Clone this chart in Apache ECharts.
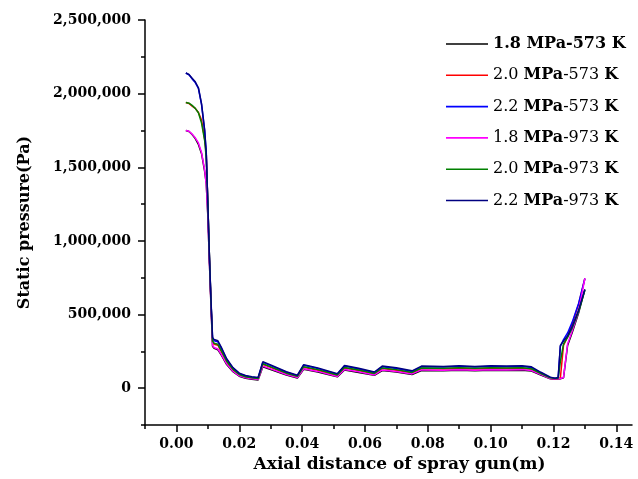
<!DOCTYPE html>
<html><head><meta charset="utf-8">
<script src="https://cdn.jsdelivr.net/npm/echarts@6/dist/echarts.min.js"></script>
<style>html,body{margin:0;padding:0;background:#fff}#c{width:638px;height:479px}</style>
</head><body><div id="c"></div>
<script>
// Axial distance (m)
const axialX = [0.003,0.004,0.005,0.006,0.007,0.008,0.009,0.0095,0.010,0.0105,0.011,0.0115,0.012,0.0125,0.0132,0.0143,0.016,0.018,0.020,0.022,0.024,0.026,0.0266,0.0275,0.030,0.035,0.0385,0.0405,0.045,0.0512,0.0535,0.058,0.063,0.0655,0.070,0.075,0.078,0.085,0.090,0.095,0.100,0.105,0.110,0.113,0.116,0.119,0.1205,0.1215,0.1222,0.1232,0.1245,0.126,0.128,0.130];
// Static pressure (Pa)
const p18_573 = [1750000,1743000,1722000,1695000,1655000,1592000,1470000,1390000,1170000,850000,560000,285000,270000,270000,260000,224000,160000,112000,81000,67000,61000,56000,53000,146000,127000,90000,69000,128000,110000,77000,123000,107000,87000,120000,110000,93000,120000,118000,121000,118000,121000,120000,122000,116000,89000,64000,60000,62000,64000,70000,290000,380000,510000,670000];
const p20_573 = [1940000,1933000,1915000,1900000,1872000,1820000,1690000,1590000,1250000,890000,580000,315000,298000,300000,292000,248000,179000,125000,91000,76000,69000,64000,60000,162000,141000,99000,78000,142000,122000,86000,137000,120000,97000,133000,122000,104000,133000,131000,134000,131000,134000,133000,135000,128000,97000,68000,63000,66000,70000,290000,350000,440000,570000,745000];
const p22_573 = [2140000,2128000,2100000,2075000,2035000,1925000,1745000,1590000,1240000,890000,590000,340000,322000,325000,315000,270000,195000,136000,99000,83000,75000,69000,65000,175000,153000,108000,85000,155000,133000,94000,150000,130000,106000,145000,133000,113000,145000,143000,147000,143000,147000,145000,148000,140000,104000,72000,66000,70000,285000,330000,375000,450000,575000,745000];
const p18_973 = [1750000,1745000,1725000,1700000,1665000,1600000,1480000,1380000,1180000,860000,570000,290000,276000,276000,266000,230000,165000,115000,84000,70000,64000,59000,56000,150000,131000,93000,72000,132000,114000,80000,127000,111000,90000,124000,114000,97000,124000,122000,125000,122000,125000,124000,126000,120000,92000,66000,62000,64000,66000,72000,300000,390000,520000,745000];
const p20_973 = [1940000,1935000,1920000,1900000,1870000,1800000,1680000,1560000,1260000,900000,590000,320000,305000,306000,298000,254000,183000,128000,93000,78000,71000,66000,62000,166000,145000,102000,80000,146000,126000,89000,141000,123000,100000,137000,126000,107000,137000,135000,138000,135000,138000,137000,139000,132000,100000,70000,65000,68000,180000,300000,345000,410000,520000,665000];
const p22_973 = [2140000,2130000,2105000,2080000,2040000,1930000,1750000,1600000,1250000,900000,600000,345000,330000,332000,322000,278000,200000,140000,102000,86000,78000,72000,68000,180000,158000,112000,88000,160000,138000,98000,154000,135000,110000,150000,138000,118000,150000,148000,152000,148000,152000,150000,153000,145000,108000,75000,68000,72000,290000,320000,355000,420000,530000,670000];

const seriesNames = ['1.8 MPa-573 K','2.0 MPa-573 K','2.2 MPa-573 K','1.8 MPa-973 K','2.0 MPa-973 K','2.2 MPa-973 K'];
const seriesValues = [p18_573,p20_573,p22_573,p18_973,p20_973,p22_973];
const seriesColors = ['#000000','#ff0000','#0000ff','#ff00ff','#008000','#000080'];
const xLabelValues = [0,0.02,0.04,0.06,0.08,0.10,0.12,0.14];
const xMinorValues = [-0.01,0.01,0.03,0.05,0.07,0.09,0.11,0.13];
const yLabelValues = [0,500000,1000000,1500000,2000000,2500000];
const yMinorValues = [-250000,250000,750000,1250000,1750000,2250000];

const FONT = 'DejaVu Serif';
const fmtThousands = v => String(Math.round(v)).replace(/\B(?=(\d{3})+(?!\d))/g, ',');

const chart = echarts.init(document.getElementById('c'), null, {renderer:'canvas'});
chart.setOption({
  animation:false,
  backgroundColor:'#fff',
  grid:{left:145,right:6,top:20,bottom:54,containLabel:false},
  legend:{
    show:true, orient:'vertical', left:441, top:30, itemWidth:42, itemHeight:1.6, itemGap:13.3,
    icon:'rect',
    data:seriesNames.map((n,i)=>({name:n, icon:'rect', itemStyle:{color:seriesColors[i]}})),
    formatter:function(name){
      const i = seriesNames.indexOf(name);
      const parts = name.match(/^([\d.]+) MPa(-\d+) K$/);
      if (i===0) return '{b|'+name+'}';
      return '{n|'+parts[1]+' }{b|MPa}{n|'+parts[2]+' }{b|K}';
    },
    textStyle:{fontFamily:FONT,fontSize:16,color:'#000',lineHeight:18,
      rich:{b:{fontFamily:FONT,fontSize:16,fontWeight:'bold',color:'#000',lineHeight:18},n:{fontFamily:FONT,fontSize:16,fontWeight:'normal',color:'#000',lineHeight:18}}}
  },
  xAxis:[{
    type:'value', min:-0.01, max:0.145, position:'bottom',
    name:'Axial distance of spray gun(m)', nameLocation:'middle', nameGap:26,
    nameTextStyle:{fontFamily:FONT,fontSize:17,fontWeight:'bold',color:'#000',padding:[0,0,0,22]},
    axisLine:{show:true,onZero:false,lineStyle:{color:'#000',width:1.5}},
    axisTick:{show:true,inside:false,length:7,customValues:xLabelValues,lineStyle:{color:'#000',width:1.5}},
    axisLabel:{show:true,margin:12,customValues:xLabelValues,fontFamily:FONT,fontSize:14,fontWeight:'bold',color:'#000',
      formatter:v=>v.toFixed(2)},
    splitLine:{show:false}
  },{
    type:'value', min:-0.01, max:0.145, position:'bottom',
    axisLine:{show:false,onZero:false},
    axisTick:{show:true,length:4,customValues:xMinorValues,lineStyle:{color:'#000',width:1.5}},
    axisLabel:{show:false}, splitLine:{show:false}
  }],
  yAxis:[{
    type:'value', min:-250000, max:2500000, position:'left',
    name:'Static pressure(Pa)', nameLocation:'middle', nameGap:112, nameRotate:90,
    nameTextStyle:{fontFamily:FONT,fontSize:16,fontWeight:'bold',color:'#000'},
    axisLine:{show:true,onZero:false,lineStyle:{color:'#000',width:1.5}},
    axisTick:{show:true,inside:false,length:7,customValues:yLabelValues,lineStyle:{color:'#000',width:1.5}},
    axisLabel:{show:true,margin:14,customValues:yLabelValues,fontFamily:FONT,fontSize:14,fontWeight:'bold',color:'#000',
      formatter:fmtThousands},
    splitLine:{show:false}
  },{
    type:'value', min:-250000, max:2500000, position:'left',
    axisLine:{show:false,onZero:false},
    axisTick:{show:true,length:4,customValues:yMinorValues,lineStyle:{color:'#000',width:1.5}},
    axisLabel:{show:false}, splitLine:{show:false}
  }],
  series: seriesNames.map((n,i)=>({
    name:n, type:'line', xAxisIndex:0, yAxisIndex:0,
    data: axialX.map((x,k)=>[x, seriesValues[i][k]]),
    symbol:'none', showSymbol:false, smooth:false,
    lineStyle:{color:seriesColors[i],width:1.5}, itemStyle:{color:seriesColors[i]},
    z: 2+i
  }))
});
</script></body></html>
